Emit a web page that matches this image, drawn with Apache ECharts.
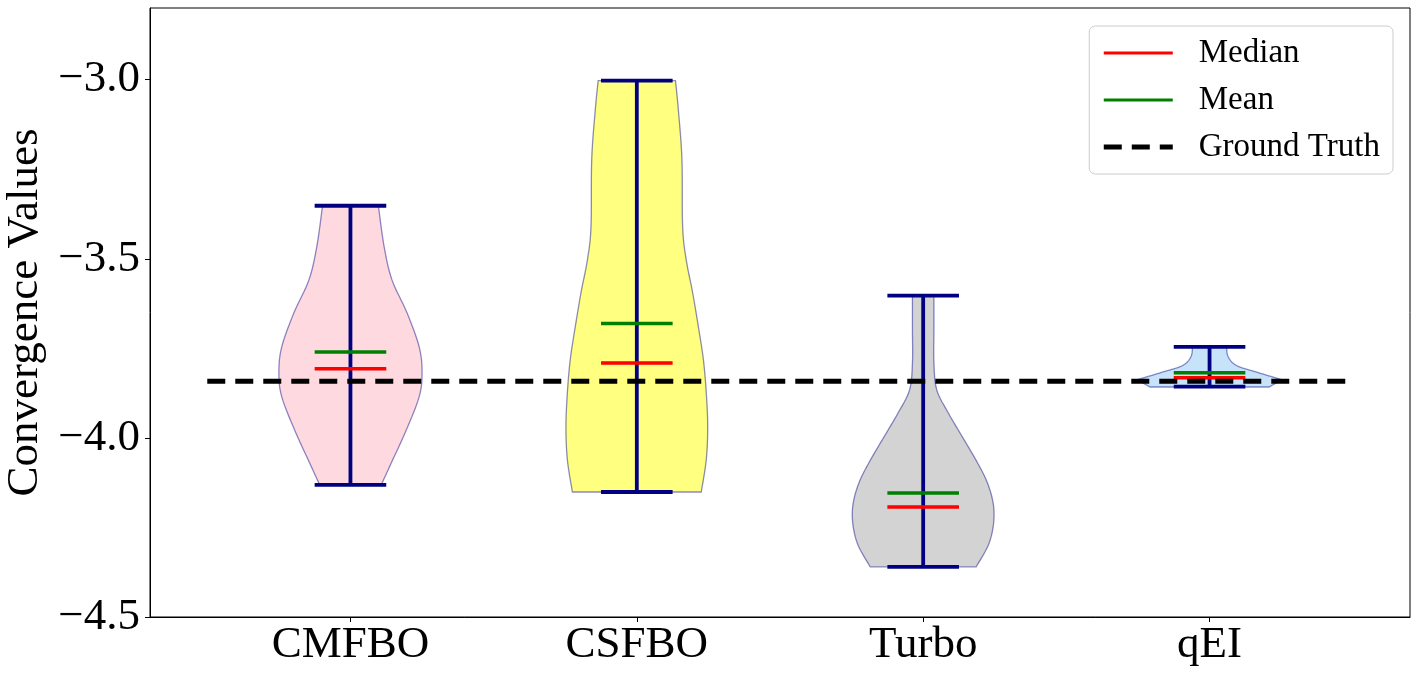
<!DOCTYPE html>
<html>
<head>
<meta charset="utf-8">
<script src="https://cdn.jsdelivr.net/npm/echarts@6/dist/echarts.min.js"></script>
<style>
html,body{margin:0;padding:0;background:#fff;}
#chart{width:1420px;height:679px;}
</style>
</head>
<body>
<div id="chart"></div>
<script>
// methods on the x axis (positions 1..4)
var categories = ['CMFBO', 'CSFBO', 'Turbo', 'qEI'];
var yTicks = [-4.5, -4.0, -3.5, -3.0];

// whisker ends, medians and means
var minValues = [-4.131, -4.151, -4.360, -3.857];
var maxValues = [-3.352, -3.003, -3.603, -3.746];
var medianValues = [-3.807, -3.791, -4.193, -3.832];
var meanValues = [-3.760, -3.681, -4.154, -3.818];
var groundTruth = -3.842;
var groundTruthRange = [0.5, 4.5];

// violin outlines: levels (top to bottom) and relative half widths
var cmfboLevels = [-3.352, -3.466, -3.559, -3.651, -3.746, -3.818, -3.885, -3.978, -4.070, -4.131];
var cmfboWidths = [0.39, 0.47, 0.58, 0.79, 0.96, 1.0, 0.96, 0.78, 0.57, 0.43];
var csfboLevels = [-3.003, -3.084, -3.223, -3.411, -3.503, -3.595, -3.690, -3.782, -3.874, -3.969, -4.061, -4.151];
var csfboWidths = [0.54, 0.58, 0.63, 0.64, 0.69, 0.78, 0.86, 0.93, 0.97, 0.99, 0.97, 0.90];
var turboLevels = [-3.603, -3.698, -3.791, -3.866, -3.930, -3.978, -4.025, -4.070, -4.117, -4.165, -4.209, -4.257, -4.304, -4.360];
var turboWidths = [0.15, 0.15, 0.15, 0.19, 0.35, 0.49, 0.63, 0.76, 0.88, 0.96, 0.99, 0.97, 0.90, 0.74];
var qeiLevels = [-3.746, -3.768, -3.788, -3.802, -3.816, -3.830, -3.838, -3.846, -3.858];
var qeiWidths = [0.24, 0.25, 0.31, 0.42, 0.65, 0.88, 1.0, 0.94, 0.83];

var violinLevels = [cmfboLevels, csfboLevels, turboLevels, qeiLevels];
var violinWidths = [cmfboWidths, csfboWidths, turboWidths, qeiWidths];
var violinColors = ['#ffd9e0', '#ffff80', '#d3d3d3', '#c6e3fa'];

var FONT = '"Liberation Serif", "Times New Roman", serif';
var maxHalf = 0.25;   // violin half width in axis units
var capHalf = 0.125;  // caps / median / mean half width

var chart = echarts.init(document.getElementById('chart'));

// catmull-rom through the outline points of one side (pixel space), so the
// flat top and bottom of the violin stay sharp
function smoothSide(pts) {
    var out = [];
    var steps = 8;
    for (var k = 0; k < pts.length - 1; k++) {
        var p0 = pts[Math.max(k - 1, 0)], p1 = pts[k], p2 = pts[k + 1], p3 = pts[Math.min(k + 2, pts.length - 1)];
        for (var s = 0; s < steps; s++) {
            var t = s / steps, t2 = t * t, t3 = t2 * t;
            out.push([
                0.5 * (2 * p1[0] + (-p0[0] + p2[0]) * t + (2 * p0[0] - 5 * p1[0] + 4 * p2[0] - p3[0]) * t2 + (-p0[0] + 3 * p1[0] - 3 * p2[0] + p3[0]) * t3),
                0.5 * (2 * p1[1] + (-p0[1] + p2[1]) * t + (2 * p0[1] - 5 * p1[1] + 4 * p2[1] - p3[1]) * t2 + (-p0[1] + 3 * p1[1] - 3 * p2[1] + p3[1]) * t3)
            ]);
        }
    }
    out.push(pts[pts.length - 1]);
    return out;
}

function renderViolin(params, api) {
    var i = api.value(0);
    var levels = violinLevels[i], widths = violinWidths[i];
    var half = api.size([maxHalf, 0])[0];
    var right = [], left = [];
    for (var k = 0; k < levels.length; k++) {
        var p = api.coord([i + 1, levels[k]]);
        right.push([p[0] + half * widths[k], p[1]]);
        left.push([p[0] - half * widths[k], p[1]]);
    }
    var pts = smoothSide(right).concat(smoothSide(left).reverse());
    return {
        type: 'polygon',
        shape: {points: pts},
        style: {fill: violinColors[i], stroke: 'rgba(0,0,128,0.45)', lineWidth: 1.3}
    };
}

function renderWhisker(params, api) {
    var x = api.value(0);
    var top = api.coord([x, api.value(2)]);
    var bot = api.coord([x, api.value(1)]);
    var w = api.size([capHalf, 0])[0];
    var st = {stroke: '#000080', lineWidth: 3.8};
    return {
        type: 'group',
        children: [
            {type: 'line', shape: {x1: top[0], y1: top[1], x2: bot[0], y2: bot[1]}, style: st},
            {type: 'line', shape: {x1: top[0] - w, y1: top[1], x2: top[0] + w, y2: top[1]}, style: st},
            {type: 'line', shape: {x1: bot[0] - w, y1: bot[1], x2: bot[0] + w, y2: bot[1]}, style: st}
        ]
    };
}

function segmentRenderer(color) {
    return function (params, api) {
        var p = api.coord([api.value(0), api.value(1)]);
        var w = api.size([capHalf, 0])[0];
        return {
            type: 'line',
            shape: {x1: p[0] - w, y1: p[1], x2: p[0] + w, y2: p[1]},
            style: {stroke: color, lineWidth: 3.5}
        };
    };
}

var violinData = [], whiskerData = [], medianData = [], meanData = [];
for (var i = 0; i < categories.length; i++) {
    violinData.push([i]);
    whiskerData.push([i + 1, minValues[i], maxValues[i]]);
    medianData.push([i + 1, medianValues[i]]);
    meanData.push([i + 1, meanValues[i]]);
}

var option = {
    animation: false,
    grid: {
        left: 150, right: 10, top: 8, bottom: 62,
        outerBoundsMode: 'none',
        show: true, borderColor: '#000', borderWidth: 1
    },
    legend: {
        orient: 'vertical',
        right: 27,
        top: 26,
        itemWidth: 69,
        itemHeight: 3,
        itemGap: 13,
        padding: [10, 13, 10, 12],
        borderColor: '#cccccc',
        borderWidth: 1,
        borderRadius: 6,
        backgroundColor: 'rgba(255,255,255,0.8)',
        textStyle: {fontFamily: FONT, fontSize: 33, color: '#000', lineHeight: 34, padding: [0, 0, 0, 21]},
        lineStyle: {width: 'inherit'},
        data: [
            {name: 'Median', icon: 'rect', itemStyle: {color: '#ff0000'}},
            {name: 'Mean', icon: 'rect', itemStyle: {color: '#008000'}},
            {name: 'Ground Truth'}
        ]
    },
    xAxis: {
        type: 'value',
        min: 0.3,
        max: 4.7,
        splitLine: {show: false},
        axisLine: {show: true, lineStyle: {color: '#000', width: 1}},
        axisTick: {show: true, length: 5, lineStyle: {color: '#000'}, customValues: [1, 2, 3, 4]},
        axisLabel: {
            customValues: [1, 2, 3, 4],
            margin: 6,
            fontFamily: FONT,
            fontSize: 45,
            color: '#000',
            formatter: function (v) { return categories[Math.round(v) - 1]; }
        }
    },
    yAxis: {
        type: 'value',
        min: -4.5,
        max: -2.8,
        name: 'Convergence Values',
        nameLocation: 'middle',
        nameGap: 85,
        nameTextStyle: {fontFamily: FONT, fontSize: 45, color: '#000'},
        splitLine: {show: false},
        axisLine: {show: true, lineStyle: {color: '#000', width: 1}},
        axisTick: {show: true, length: 5, lineStyle: {color: '#000'}, customValues: yTicks},
        axisLabel: {
            customValues: yTicks,
            margin: 10,
            fontFamily: FONT,
            fontSize: 45,
            color: '#000',
            formatter: function (v) { return '\u2212' + Math.abs(v).toFixed(1); }
        }
    },
    series: [
        {type: 'custom', name: 'violins', renderItem: renderViolin, data: violinData, z: 1, silent: true},
        {type: 'custom', name: 'whiskers', renderItem: renderWhisker, data: whiskerData, z: 2, silent: true},
        {type: 'custom', name: 'Mean', renderItem: segmentRenderer('#008000'), data: meanData, z: 3, itemStyle: {color: '#008000'}},
        {type: 'custom', name: 'Median', renderItem: segmentRenderer('#ff0000'), data: medianData, z: 3, itemStyle: {color: '#ff0000'}},
        {
            type: 'line',
            name: 'Ground Truth',
            z: 4,
            symbol: 'none',
            color: '#000',
            lineStyle: {color: '#000', width: 5, type: [18, 10]},
            data: [[groundTruthRange[0], groundTruth], [groundTruthRange[1], groundTruth]]
        }
    ]
};
chart.setOption(option);
</script>
</body>
</html>
